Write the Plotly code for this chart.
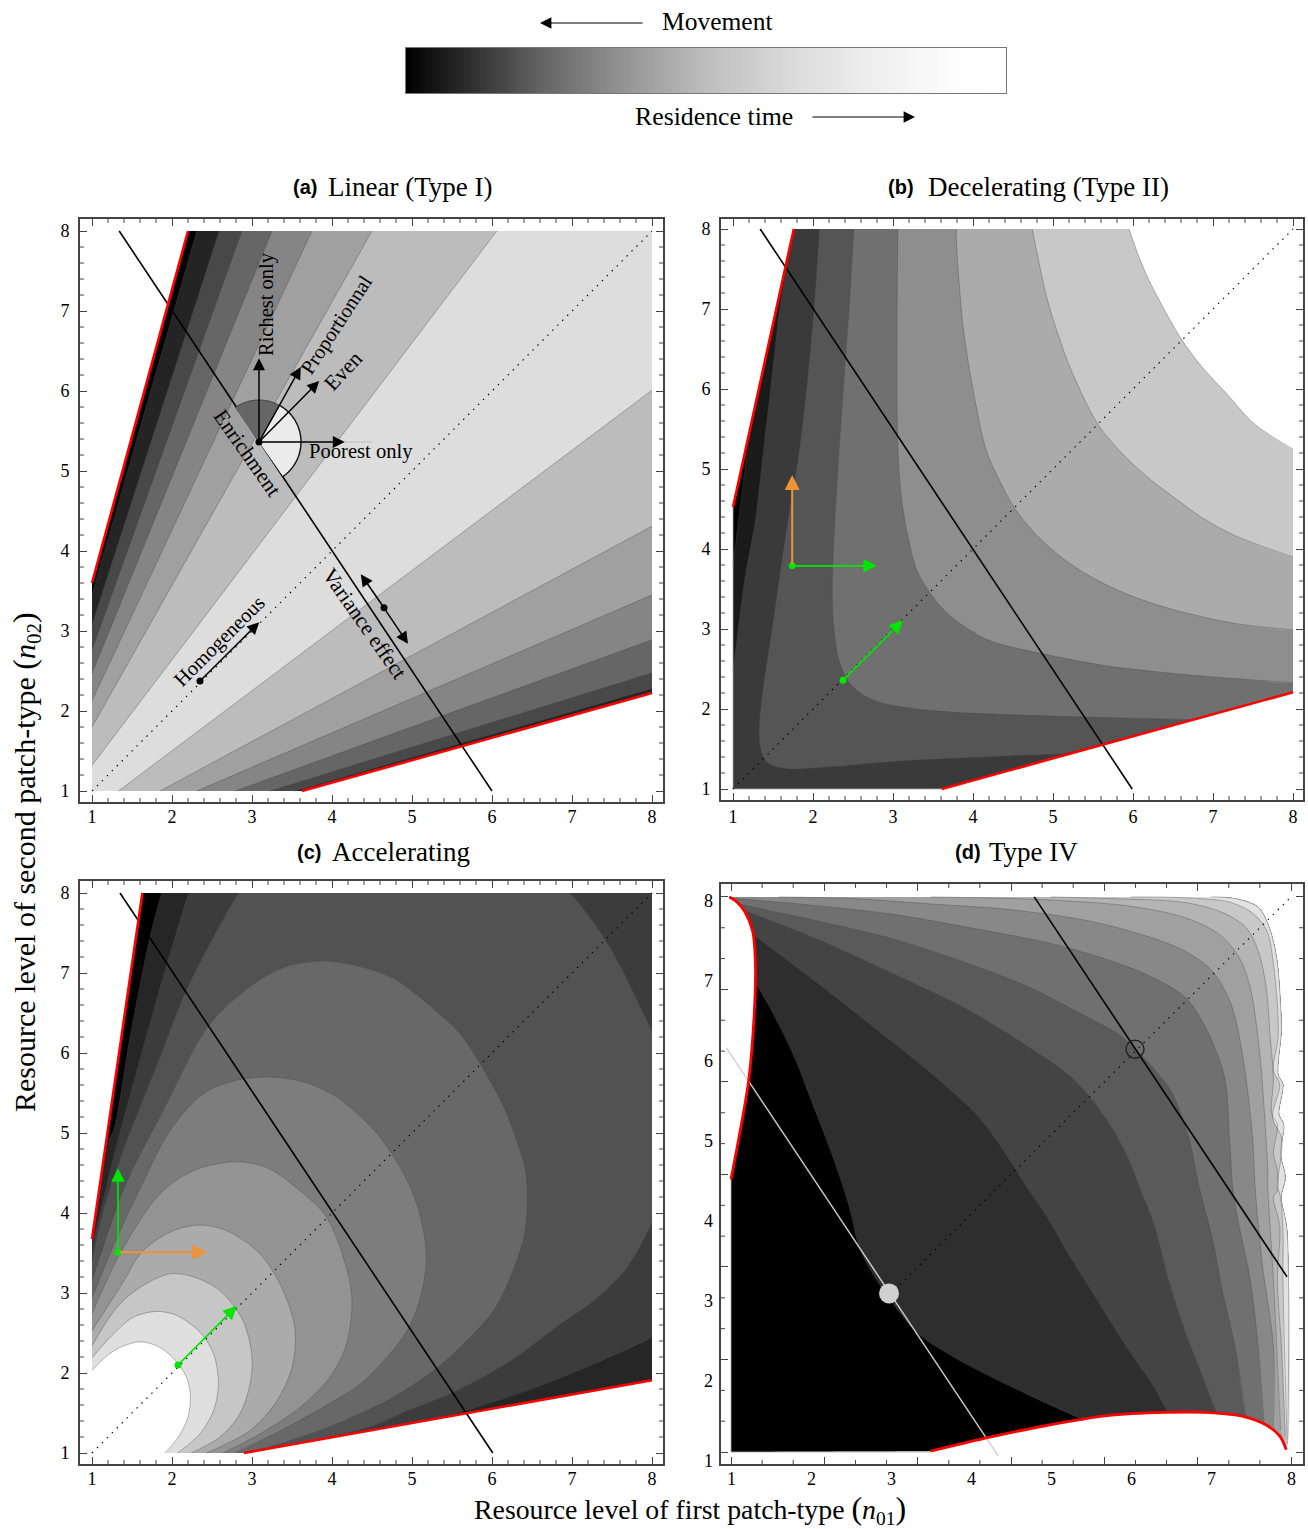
import math
import plotly.graph_objects as go

W, H = 1308, 1529
SERIF = "Liberation Serif"
SANS = "Liberation Sans"
GREEN = "#00e600"
ORANGE = "#ee9438"
EDGE = "rgba(70,70,70,0.55)"

# ---------- colour bar ----------
bar_pos = [0, .115, .23, .37, .51, .65, .79, .93, 1]
bar_gray = [0, 51, 102, 150, 192, 220, 240, 254, 255]

# ---------- (a) Linear ----------
a_left_y = [3.46, 3.08, 2.76, 2.47, 2.13, 1.80, 1.32]
a_top_x = [2.31, 2.59, 2.875, 3.25, 3.75, 4.5, 6.06]
a_right_y = [2.24, 2.28, 2.475, 2.89, 3.45, 4.31, 6.01]
a_bottom_x = [3.6, 3.54, 3.225, 2.79, 2.31, 1.85, 1.33]
a_gray = ["#242424", "#484848", "#666666", "#858585", "#a0a0a0", "#bcbcbc", "#dddddd"]
a_red_up_x = [1, 2.2]
a_red_up_y = [3.6, 8]
a_red_lo_x = [3.625, 8]
a_red_lo_y = [1, 2.225]
a_line_x = [1.34, 6]
a_line_y = [8, 1]

# ---------- (b) Decelerating ----------
b_red_up_x = [1, 1.76]
b_red_up_y = [4.525, 8]
b_red_lo_x = [3.61, 8]
b_red_lo_y = [1, 2.21]
b_line_x = [1.34, 5.99]
b_line_y = [8, 1]
b1_x = [1, 1.07, 1.15, 1.24]
b1_y = [3.80, 4.36, 5.0, 5.62]
b2_x = [1, 1.05, 1.15, 1.28, 1.38, 1.49, 1.59, 1.68]
b2_y = [2.46, 2.87, 3.64, 4.36, 5.22, 6.18, 7.04, 7.57]
b3_x = [2.08, 2.03, 1.97, 1.84, 1.65, 1.49, 1.38, 1.33, 1.34, 1.40, 1.53, 1.70, 2.26, 3.09, 4.35, 4.77, 5.15]
b3_y = [8, 7.23, 6.51, 5.31, 4.12, 3.01, 2.29, 1.81, 1.53, 1.36, 1.28, 1.25, 1.28, 1.35, 1.41, 1.425, 1.44]
b4_x = [2.51, 2.45, 2.38, 2.30, 2.25, 2.24, 2.26, 2.32, 2.425, 2.59, 2.84, 3.30, 3.925, 4.59, 5.40, 6.73]
b4_y = [8, 7, 6.03, 4.84, 3.88, 3.40, 3.01, 2.63, 2.37, 2.2, 2.08, 2.0, 1.95, 1.925, 1.90, 1.87]
b5_x = [3.06, 3.05, 3.05, 3.07, 3.11, 3.175, 3.30, 3.47, 3.675, 3.925, 4.22, 4.875, 5.6, 6.44, 7.27, 8]
b5_y = [8, 6.75, 5.79, 5.07, 4.6, 4.21, 3.73, 3.44, 3.2, 3.01, 2.85, 2.69, 2.55, 2.45, 2.38, 2.33]
b6_x = [3.79, 3.80, 3.88, 4.01, 4.17, 4.34, 4.52, 4.77, 5.10, 5.48, 5.94, 6.44, 7.27, 8]
b6_y = [8, 7.71, 6.75, 5.94, 5.22, 4.84, 4.51, 4.2, 3.90, 3.65, 3.43, 3.26, 3.07, 2.99]
b7_x = [4.74, 4.81, 4.92, 5.04, 5.23, 5.56, 5.85, 6.19, 6.60, 6.85, 7.27, 8]
b7_y = [8, 7.65, 7.15, 6.75, 6.23, 5.56, 5.21, 4.89, 4.58, 4.40, 4.17, 3.90]
b8_x = [5.95, 6.06, 6.19, 6.35, 6.60, 6.85, 7.19, 7.52, 8]
b8_y = [8, 7.69, 7.38, 7.07, 6.63, 6.29, 5.92, 5.56, 5.25]

# ---------- (c) Accelerating ----------
c_red_up_x = [1, 1.63]
c_red_up_y = [3.675, 8]
c_red_lo_x = [2.9, 8]
c_red_lo_y = [1, 1.91]
c_line_x = [1.35, 6.01]
c_line_y = [8, 1]
c_black_x = [1.87, 1.725, 1.475, 1.27, 1.2]
c_black_y = [8, 7.45, 6.2, 5.03, 4.9]
c_3c_up_x = [1, 1.27, 1.56, 1.975, 2.22]
c_3c_up_y = [3.57, 4.7, 5.78, 7.24, 8]
c_3c_lo_x = [8, 7.27, 6.44, 5.6, 5.0]
c_3c_lo_y = [2.45, 2.11, 1.78, 1.51, 1.37]
c_52_up_x = [1, 1.14, 1.39, 1.85, 2.16, 2.475, 2.84]
c_52_up_y = [3.4, 4.03, 4.78, 5.95, 6.74, 7.37, 8]
c_52_cn_x = [6.97, 7.19, 7.42, 7.65, 7.85, 8]
c_52_cn_y = [8, 7.74, 7.41, 7.0, 6.58, 6.27]
c_52_lo_x = [8, 7.69, 7.27, 6.85, 6.23, 5.52, 4.9, 4.52, 3.9]
c_52_lo_y = [3.88, 3.32, 2.9, 2.61, 2.15, 1.76, 1.51, 1.34, 1.18]
c_68_x = [1, 1.18, 1.44, 1.89, 2.45, 2.975, 3.43, 3.89, 4.35, 4.77, 5.19, 5.6, 5.85, 6.15, 6.35, 6.42, 6.44, 6.4, 6.23, 6.02, 5.6, 5.27, 4.77, 4.35, 3.9, 3.3, 2.9]
c_68_y = [3.15, 3.7, 4.4, 5.28, 6.33, 6.83, 7.08, 7.15, 7.08, 6.93, 6.62, 6.24, 5.87, 5.32, 4.78, 4.53, 4.11, 3.70, 3.2, 2.78, 2.32, 2.03, 1.7, 1.49, 1.3, 1.1, 1]
c_7d_x = [1, 1.225, 1.43, 1.65, 1.975, 2.39, 2.81, 3.225, 3.64, 4.06, 4.35, 4.6, 4.875, 5.06, 5.17, 5.17, 5.08, 4.94, 4.69, 4.35, 3.9, 3.4, 2.78]
c_7d_y = [2.94, 3.49, 3.95, 4.41, 5.03, 5.49, 5.66, 5.7, 5.64, 5.45, 5.21, 4.95, 4.53, 4.11, 3.61, 3.28, 2.86, 2.53, 2.2, 1.86, 1.58, 1.3, 1]
c_93_x = [1, 1.35, 1.85, 2.27, 2.77, 3.18, 3.6, 3.93, 4.18, 4.25, 4.18, 3.975, 3.6, 3.1, 2.64]
c_93_y = [2.74, 3.49, 4.24, 4.53, 4.64, 4.57, 4.28, 3.95, 3.32, 2.9, 2.36, 1.95, 1.57, 1.24, 1]
c_ab_x = [1, 1.35, 1.64, 2.02, 2.35, 2.68, 3.1, 3.39, 3.54, 3.5, 3.31, 2.975, 2.43]
c_ab_y = [2.53, 3.07, 3.53, 3.78, 3.85, 3.78, 3.49, 3.03, 2.53, 2.07, 1.65, 1.28, 1]
c_c6_x = [1, 1.31, 1.60, 1.975, 2.27, 2.6, 2.89, 3.0, 2.975, 2.85, 2.6, 2.24]
c_c6_y = [2.34, 2.82, 3.07, 3.24, 3.20, 3.03, 2.65, 2.2, 1.86, 1.49, 1.2, 1]
c_df_x = [1, 1.27, 1.52, 1.81, 2.06, 2.35, 2.52, 2.58, 2.52, 2.35, 2.07]
c_df_y = [2.19, 2.49, 2.70, 2.77, 2.72, 2.51, 2.24, 1.86, 1.53, 1.24, 1]
c_w_x = [1, 1.14, 1.31, 1.60, 1.85, 2.04, 2.18, 2.23, 2.20, 2.08, 1.91]
c_w_y = [2.03, 2.175, 2.30, 2.39, 2.32, 2.16, 1.95, 1.72, 1.45, 1.20, 1]

# ---------- (d) Type IV ----------
d_red_up_x = [1, 1.10, 1.22, 1.29, 1.305, 1.27, 1.17, 1.07, 0.98]
d_red_up_y = [4.44, 4.97, 5.68, 6.52, 7.15, 7.57, 7.82, 7.94, 8]
d_red_lo_x = [3.495, 4.25, 4.97, 5.7, 6.43, 6.91, 7.4, 7.69, 7.86, 7.94]
d_red_lo_y = [1.01, 1.19, 1.34, 1.46, 1.50, 1.50, 1.45, 1.34, 1.2, 1.03]
d_line_x = [4.79, 7.95]
d_line_y = [8, 3.21]
d_pale_x = [0.94, 4.34]
d_pale_y = [6.1, 0.95]
d1_x = [1.315, 1.53, 1.775, 2.02, 2.26, 2.415, 2.50, 2.60, 2.74, 2.99, 3.33, 3.76, 4.49, 5.38]
d1_y = [6.90, 6.52, 6.02, 5.39, 4.76, 4.3, 4.01, 3.59, 3.30, 2.92, 2.5, 2.21, 1.83, 1.42]
d2_x = [1.27, 2.07, 2.79, 3.52, 4.10, 4.49, 4.69, 4.92, 5.21, 5.55, 5.94, 6.28, 6.47]
d2_y = [7.53, 6.92, 6.35, 5.76, 5.22, 4.67, 4.35, 4.01, 3.51, 2.96, 2.33, 1.83, 1.5]
d3_x = [1.19, 2.07, 3.03, 3.99, 4.73, 5.26, 5.65, 5.94, 6.10, 6.28, 6.47, 6.67, 6.91, 7.08]
d3_y = [7.82, 7.47, 7.03, 6.56, 6.10, 5.72, 5.26, 4.76, 4.35, 3.89, 3.17, 2.54, 1.91, 1.48]
d4_x = [1.10, 2.07, 3.03, 3.99, 4.73, 5.46, 5.84, 6.18, 6.5, 6.72, 6.85, 7.01, 7.15, 7.3, 7.44]
d4_y = [7.91, 7.70, 7.47, 7.15, 6.86, 6.48, 6.27, 5.95, 5.55, 4.97, 4.35, 3.72, 3.0, 2.33, 1.45]
d5_x = [1.05, 2.07, 3.03, 3.99, 4.97, 5.70, 6.28, 6.72, 7.15, 7.23, 7.27, 7.32, 7.49, 7.59, 7.66]
d5_y = [7.98, 7.89, 7.78, 7.61, 7.42, 7.21, 6.98, 6.69, 5.81, 4.97, 4.35, 4.01, 3.17, 2.33, 1.39]
d6_x = [1.6, 2.5, 3.52, 4.49, 5.46, 6.18, 6.67, 7.01, 7.25, 7.40, 7.52, 7.55, 7.64, 7.78, 7.78]
d6_y = [8, 7.98, 7.91, 7.84, 7.70, 7.51, 7.32, 7.07, 6.65, 5.97, 4.97, 4.35, 3.38, 2.33, 1.32]
d7_x = [3.5, 4.78, 5.94, 6.67, 7.10, 7.35, 7.49, 7.61, 7.66, 7.71, 7.71, 7.78, 7.87]
d7_y = [8, 7.97, 7.89, 7.74, 7.53, 7.24, 6.86, 6.02, 5.39, 4.55, 4.35, 3.17, 1.28]
d8_x = [5.0, 5.70, 6.67, 7.15, 7.44, 7.59, 7.69, 7.74, 7.78, 7.76, 7.83, 7.78, 7.83, 7.83, 7.78, 7.86, 7.83, 7.88, 7.93]
d8_y = [8, 7.98, 7.93, 7.80, 7.61, 7.32, 6.86, 6.23, 5.72, 5.26, 5.13, 4.76, 4.55, 4.29, 4.22, 3.84, 3.17, 2.33, 1.2]
d9_x = [6.0, 6.67, 7.25, 7.54, 7.70, 7.77, 7.83, 7.84, 7.78, 7.86, 7.77, 7.88, 7.88, 7.83, 7.86, 7.9, 7.9, 7.95]
d9_y = [8, 7.99, 7.93, 7.78, 7.57, 7.24, 6.65, 6.23, 5.81, 5.64, 5.22, 4.97, 4.76, 4.34, 4.26, 3.8, 3.17, 1.16]
d10_x = [7.0, 7.30, 7.59, 7.73, 7.82, 7.87, 7.88, 7.84, 7.90, 7.85, 7.91, 7.87, 7.93, 7.88, 7.95, 7.96]
d10_y = [8, 7.98, 7.87, 7.61, 7.24, 6.65, 6.31, 5.76, 5.64, 5.26, 5.13, 4.76, 4.46, 4.22, 3.8, 1.16]
d_gray = ["#2e2e2e", "#444444", "#5a5a5a", "#707070", "#888888", "#a0a0a0", "#b4b4b4", "#c8c8c8", "#e2e2e2"]
d_tick_label_y = [0.887, 1.895, 2.904, 3.913, 4.92, 5.93, 6.94, 7.95]
tick_labels = ["1", "2", "3", "4", "5", "6", "7", "8"]

fig = go.Figure()
EPS = 0.015


def band_path(pieces):
    """Join curve pieces; the joins between pieces stay straight and the corners stay sharp."""
    pieces = [p for p in pieces if p[0]]
    xs, ys = [], []
    n = len(pieces)
    for i, (px, py) in enumerate(pieces):
        xs.extend(px)
        ys.extend(py)
        qx, qy = pieces[(i + 1) % n]
        dx, dy = qx[0] - px[-1], qy[0] - py[-1]
        dist = math.hypot(dx, dy)
        if dist > 3 * EPS:
            ux, uy = dx / dist * EPS, dy / dist * EPS
            xs.extend([px[-1] + ux, qx[0] - ux])
            ys.extend([py[-1] + uy, qy[0] - uy])
    return xs, ys


def pt(x, y):
    return ([x], [y])


def fill(ax, pieces, color, shape="spline"):
    x, y = band_path(pieces)
    fig.add_trace(go.Scatter(x=x, y=y, xaxis="x" + ax, yaxis="y" + ax, mode="lines",
                             line=dict(width=0, shape=shape, simplify=False, smoothing=0.9),
                             fill="toself", fillcolor=color, hoverinfo="skip", showlegend=False))


def line(ax, x, y, color=EDGE, width=0.7, dash=None, shape="spline"):
    fig.add_trace(go.Scatter(x=x, y=y, xaxis="x" + ax, yaxis="y" + ax, mode="lines",
                             line=dict(width=width, color=color, dash=dash, shape=shape, simplify=False,
                                       smoothing=0.9),
                             hoverinfo="skip", showlegend=False))


def dots(ax, x, y, color, size):
    fig.add_trace(go.Scatter(x=x, y=y, xaxis="x" + ax, yaxis="y" + ax, mode="markers",
                             marker=dict(size=size, color=color), hoverinfo="skip", showlegend=False))


DIAG_DASH = "1.5px,5.5px"
annotations = []


def arrow(ax, x0, y0, x1, y1, color="black", width=1.5, size=1.6):
    annotations.append(dict(x=x1, y=y1, ax=x0, ay=y0, xref="x" + ax, yref="y" + ax,
                            axref="x" + ax, ayref="y" + ax, text="", showarrow=True,
                            arrowhead=2, arrowsize=size, arrowwidth=width, arrowcolor=color,
                            standoff=0, startstandoff=0))


def label(ax, x, y, text, angle=0, size=20.5):
    annotations.append(dict(x=x, y=y, xref="x" + ax, yref="y" + ax, text=text, showarrow=False,
                            textangle=angle, font=dict(family=SERIF, size=size, color="black")))


def page_text(px, py, text, size=25, family=SERIF, angle=0, xanchor="center"):
    annotations.append(dict(x=px / W, y=1 - py / H, xref="paper", yref="paper", text=text,
                            showarrow=False, textangle=angle, xanchor=xanchor, yanchor="middle",
                            font=dict(family=family, size=size, color="black")))


def page_arrow(x0, y0, x1, y1):
    annotations.append(dict(x=x1 / W, y=1 - y1 / H, ax=x0 - x1, ay=y0 - y1, xref="paper", yref="paper",
                            axref="pixel", ayref="pixel", text="", showarrow=True, arrowhead=2,
                            arrowsize=1.9, arrowwidth=1.2, arrowcolor="black", standoff=0))


# ---------- panel a ----------
fill("", [pt(1, 3.6), pt(2.2, 8), pt(8, 8), pt(8, 2.225), pt(3.625, 1), pt(1, 1)], "#000000", "linear")
for i, col in enumerate(a_gray):
    fill("", [pt(1, a_left_y[i]), pt(a_top_x[i], 8), pt(8, 8), pt(8, a_right_y[i]), pt(a_bottom_x[i], 1), pt(1, 1)],
         col, "linear")
    line("", [1, a_top_x[i], None, a_bottom_x[i], 8], [a_left_y[i], 8, None, 1, a_right_y[i]], shape="linear")
line("", [1, 8], [1, 8], "black", 1.1, DIAG_DASH, "linear")
line("", a_line_x, a_line_y, "black", 1.6, shape="linear")
CX, CY, R = 3.0875, 5.3625, 0.525
arc_dark = [math.radians(125 - k * 65 / 24) for k in range(25)]
arc_light = [math.radians(60 - k * 115 / 36) for k in range(37)]
dark_x = [CX + R * math.cos(t) for t in arc_dark]
dark_y = [CY + R * math.sin(t) for t in arc_dark]
light_x = [CX + R * math.cos(t) for t in arc_light]
light_y = [CY + R * math.sin(t) for t in arc_light]
fill("", [pt(CX, CY), (dark_x, dark_y)], "#666666", "linear")
fill("", [pt(CX, CY), (light_x, light_y)], "#ebebeb", "linear")
line("", dark_x, dark_y, "#333333", 0.8, shape="linear")
line("", light_x, light_y, "#111111", 1.4, shape="linear")
line("", [4.16, 4.5], [CY, CY], "rgba(90,90,90,.6)", 0.8, "1px,1px", "linear")
dots("", [CX, 2.35, 4.65], [CY, 2.375, 3.29], "black", 7)
arrow("", CX, CY, CX, 6.41)
arrow("", CX, CY, 3.61, 6.3)
arrow("", CX, CY, 3.84, 6.125)
arrow("", CX, CY, 4.16, CY)
arrow("", 2.35, 2.375, 3.09, 3.11)
arrow("", 4.65, 3.29, 4.36, 3.71)
arrow("", 4.65, 3.29, 4.95, 2.84)
label("", 3.19, 7.09, "Richest only", -90)
label("", 4.05, 6.825, "Proportionnal", -57)
label("", 4.14, 6.25, "Even", -47, 21.5)
label("", 4.36, 5.24, "Poorest only", 0, 20.6)
label("", 2.94, 5.225, "Enrichment", 55, 21.5)
label("", 4.41, 3.09, "Variance effect", 55, 21.5)
label("", 2.59, 2.875, "Homogeneous", -45)
line("", a_red_up_x, a_red_up_y, "#ff0000", 2.6, shape="linear")
line("", a_red_lo_x, a_red_lo_y, "#ff0000", 2.6, shape="linear")

# ---------- panel b ----------
fill("2", [pt(1, 4.525), pt(1.76, 8), pt(8, 8), pt(8, 2.21), pt(3.61, 1), pt(1, 1)], "#000000", "linear")
fill("2", [(b1_x, b1_y), pt(1.76, 8), pt(8, 8), pt(8, 2.21), pt(3.61, 1), pt(1, 1)], "#1a1a1a")
fill("2", [(b2_x, b2_y), pt(1.76, 8), pt(8, 8), pt(8, 2.21), pt(3.61, 1), pt(1, 1)], "#3a3a3a")
fill("2", [(b3_x, b3_y), pt(8, 2.21), pt(8, 8)], "#555555")
fill("2", [(b4_x, b4_y), pt(8, 2.21), pt(8, 8)], "#707070")
fill("2", [(b5_x, b5_y), pt(8, 8)], "#8e8e8e")
fill("2", [(b6_x, b6_y), pt(8, 8)], "#ababab")
fill("2", [(b7_x, b7_y), pt(8, 8)], "#c8c8c8")
fill("2", [(b8_x, b8_y), pt(8, 8)], "#ffffff")
for cx, cy in [(b1_x, b1_y), (b2_x, b2_y), (b3_x, b3_y), (b4_x, b4_y), (b5_x, b5_y), (b6_x, b6_y), (b7_x, b7_y), (b8_x, b8_y)]:
    line("2", cx, cy)
line("2", [1, 1], [1, 4.525], "#aaaaaa", 0.8, shape="linear")
line("2", [1, 3.61], [1, 1], "#aaaaaa", 0.8, shape="linear")
line("2", [1, 8], [1, 8], "black", 1.1, DIAG_DASH, "linear")
line("2", b_line_x, b_line_y, "black", 1.6, shape="linear")
line("2", b_red_up_x, b_red_up_y, "#ff0000", 2.6, shape="linear")
line("2", b_red_lo_x, b_red_lo_y, "#ff0000", 2.6, shape="linear")
arrow("2", 1.74, 3.79, 1.74, 4.925, ORANGE, 2, 1.5)
arrow("2", 1.74, 3.79, 2.8, 3.79, GREEN, 1.7)
arrow("2", 2.375, 2.36, 3.125, 3.11, GREEN, 1.7)
dots("2", [1.74, 2.375], [3.79, 2.36], GREEN, 7)

# ---------- panel c ----------
fill("3", [pt(1, 3.675), pt(1.63, 8), pt(8, 8), pt(8, 1.91), pt(2.9, 1), pt(1, 1)], "#000000", "linear")
fill("3", [(c_black_x, c_black_y), pt(1, 3.675), pt(1, 1), pt(2.9, 1), pt(8, 1.91), pt(8, 8)], "#262626")
fill("3", [(c_3c_up_x, c_3c_up_y), pt(8, 8), (c_3c_lo_x, c_3c_lo_y), pt(2.9, 1), pt(1, 1)], "#3c3c3c")
fill("3", [(c_52_up_x, c_52_up_y), (c_52_cn_x, c_52_cn_y), (c_52_lo_x, c_52_lo_y), pt(2.9, 1), pt(1, 1)], "#525252")
for (cx, cy), col in [((c_68_x, c_68_y), "#686868"), ((c_7d_x, c_7d_y), "#7d7d7d"), ((c_93_x, c_93_y), "#939393"),
                      ((c_ab_x, c_ab_y), "#ababab"), ((c_c6_x, c_c6_y), "#c6c6c6"), ((c_df_x, c_df_y), "#dfdfdf"),
                      ((c_w_x, c_w_y), "#ffffff")]:
    fill("3", [(cx, cy), pt(1, 1)], col)
for cx, cy in [(c_black_x, c_black_y), (c_3c_up_x, c_3c_up_y), (c_3c_lo_x, c_3c_lo_y), (c_52_up_x, c_52_up_y),
               (c_52_cn_x, c_52_cn_y), (c_52_lo_x, c_52_lo_y), (c_68_x, c_68_y), (c_7d_x, c_7d_y),
               (c_93_x, c_93_y), (c_ab_x, c_ab_y), (c_c6_x, c_c6_y), (c_df_x, c_df_y), (c_w_x, c_w_y)]:
    line("3", cx, cy)
line("3", [1, 8], [1, 8], "black", 1.1, DIAG_DASH, "linear")
line("3", c_line_x, c_line_y, "black", 1.6, shape="linear")
line("3", c_red_up_x, c_red_up_y, "#ff0000", 2.6, shape="linear")
line("3", c_red_lo_x, c_red_lo_y, "#ff0000", 2.6, shape="linear")
arrow("3", 1.325, 3.51, 1.325, 4.56, GREEN, 1.7)
arrow("3", 1.325, 3.51, 2.44, 3.51, ORANGE, 2, 1.5)
arrow("3", 2.075, 2.1, 2.81, 2.84, GREEN, 1.7)
dots("3", [1.325, 2.075], [3.51, 2.1], GREEN, 7)

# ---------- panel d ----------
d10_rev = (d10_x[::-1], d10_y[::-1])
fill("4", [pt(1, 1), (d_red_lo_x, d_red_lo_y), d10_rev, (d_red_up_x[::-1], d_red_up_y[::-1])], "#000000")
d_curves = [(d1_x, d1_y), (d2_x, d2_y), (d3_x, d3_y), (d4_x, d4_y), (d5_x, d5_y),
            (d6_x, d6_y), (d7_x, d7_y), (d8_x, d8_y), (d9_x, d9_y)]
for (cx, cy), col in zip(d_curves, d_gray):
    tail = [(a, b) for a, b in zip(d_red_lo_x, d_red_lo_y) if a > cx[-1]]
    rim = [(a, b) for a, b in zip(d_red_up_x[::-1], d_red_up_y[::-1]) if b > cy[0] or b == 8]
    fill("4", [(cx, cy), ([p[0] for p in tail], [p[1] for p in tail]), d10_rev,
               ([p[0] for p in rim], [p[1] for p in rim])], col)
for cx, cy in d_curves:
    line("4", cx, cy)
line("4", d10_x, d10_y, "rgba(110,110,110,.7)", 0.7)
line("4", [1, 1], [1, 4.44], "#aaaaaa", 0.8, shape="linear")
line("4", [1, 3.495], [1, 1], "#aaaaaa", 0.8, shape="linear")
line("4", [3.05, 8], [3.05, 8], "black", 1.1, DIAG_DASH, "linear")
line("4", d_line_x, d_line_y, "black", 1.6, shape="linear")
line("4", d_pale_x, d_pale_y, "#cfcfcf", 1.4, shape="linear")
line("4", d_red_up_x, d_red_up_y, "#ff0000", 2.8)
line("4", d_red_lo_x, d_red_lo_y, "#ff0000", 2.8)
fig.add_trace(go.Scatter(x=[6.05], y=[6.08], xaxis="x4", yaxis="y4", mode="markers", hoverinfo="skip",
                         showlegend=False,
                         marker=dict(size=18, color="rgba(0,0,0,0)", line=dict(width=1.4, color="#222222"))))
dots("4", [2.975], [3.0], "#d0d0d0", 20)

# ---------- colour bar ----------
fig.add_trace(go.Heatmap(x=bar_pos, y=[0, 1], z=[bar_gray, bar_gray], zmin=0, zmax=255, zsmooth="best",
                         colorscale=[[0, "#000000"], [1, "#ffffff"]], showscale=False, hoverinfo="skip",
                         xaxis="x5", yaxis="y5"))

# ---------- layout ----------
FRAME = "#444444"


def axis(px0, px1, lo, hi, anchor, size, standoff):
    return dict(domain=[px0 / size, px1 / size], range=[lo, hi], anchor=anchor, showgrid=False, zeroline=False,
                showline=True, linecolor=FRAME, linewidth=1.6, mirror="allticks", ticks="inside",
                ticklen=7, tickwidth=1.2, tickcolor=FRAME, tickmode="linear", tick0=1, dtick=1,
                showticklabels=True, ticklabelstandoff=standoff,
                tickfont=dict(family=SERIF, size=18, color="black"))


def yaxis(top, bottom, lo, hi, anchor):
    return axis(H - bottom, H - top, lo, hi, anchor, H, 5)


layout = dict(width=W, height=H, margin=dict(l=0, r=0, t=0, b=0), paper_bgcolor="white", plot_bgcolor="white",
              showlegend=False, font=dict(family=SERIF, color="black"))
layout["xaxis"] = axis(80, 663, .85, 8.1375, "y", W, -2)
layout["yaxis"] = yaxis(219, 802, .8625, 8.15, "x")
layout["xaxis2"] = axis(721, 1303, .85, 8.125, "y2", W, 0)
layout["yaxis2"] = yaxis(219, 800, .8625, 8.125, "x2")
layout["xaxis3"] = axis(80, 663, .85, 8.1375, "y3", W, -2)
layout["yaxis3"] = yaxis(881, 1464, .8625, 8.15, "x3")
x4 = axis(721, 1303, .875, 8.15, "y4", W, 0)
y4 = yaxis(884, 1464, .8487, 8.163, "x4")
for ax4 in (x4, y4):
    ax4["dtick"] = 7 / 6
    ax4["showticklabels"] = False
layout["xaxis4"] = x4
layout["yaxis4"] = y4
layout["xaxis5"] = dict(domain=[406 / W, 1006 / W], range=[0, 1], anchor="y5", showgrid=False, zeroline=False,
                        showticklabels=False, ticks="", showline=True, linecolor="#777777", linewidth=1, mirror=True)
layout["yaxis5"] = dict(domain=[1 - 93 / H, 1 - 48 / H], range=[0, 1], anchor="x5", showgrid=False, zeroline=False,
                        showticklabels=False, ticks="", showline=True, linecolor="#777777", linewidth=1, mirror=True)


def minor_ticks(s, step, every):
    """Short tick marks along all four frame sides of one panel, 4 px = 0.05 axis units long."""
    xlo, xhi = layout["xaxis" + s]["range"]
    ylo, yhi = layout["yaxis" + s]["range"]
    marks = [1 + k * step for k in range(int(round(7 / step)) + 1) if k % every]
    xs, ys = [], []
    for m in marks:
        xs += [m, m, None, m, m, None]
        ys += [ylo, ylo + 0.05, None, yhi, yhi - 0.05, None]
        xs += [xlo, xlo + 0.05, None, xhi, xhi - 0.05, None]
        ys += [m, m, None, m, m, None]
    fig.add_trace(go.Scatter(x=xs, y=ys, xaxis="x" + s, yaxis="y" + s, mode="lines", hoverinfo="skip",
                             showlegend=False, line=dict(color=FRAME, width=1)))


minor_ticks("", 0.2, 5)
minor_ticks("2", 0.2, 5)
minor_ticks("3", 0.2, 5)
minor_ticks("4", 7 / 18, 3)

for i, t in enumerate(tick_labels):
    annotations.append(dict(x=i + 1, y=1 - 1479 / H, xref="x4", yref="paper", text=t, showarrow=False,
                            yanchor="middle", xanchor="center", font=dict(family=SERIF, size=18, color="black")))
    annotations.append(dict(x=715 / W, y=d_tick_label_y[i], xref="paper", yref="y4", text=t, showarrow=False,
                            xanchor="right", yanchor="middle", font=dict(family=SERIF, size=18, color="black")))

page_text(717, 21, "Movement", 25.5)
page_text(714, 116, "Residence time", 25.8)
page_arrow(644, 23, 540, 23)
page_arrow(811, 117, 915, 117)
for px, py, tag in [(304.5, 187, "(a)"), (901, 187, "(b)"), (309, 852, "(c)"), (968, 852, "(d)")]:
    page_text(px, py, "<b>" + tag + "</b>", 20, SANS)
page_text(326, 187, "Linear (Type I)", 27, xanchor="left")
page_text(926, 187, "Decelerating (Type II)", 27, xanchor="left")
page_text(330, 852, "Accelerating", 27, xanchor="left")
page_text(987, 852, "Type IV", 27, xanchor="left")
PAR_OPEN = '<span style="font-size:32px">(</span>'
PAR_CLOSE = '<span style="font-size:32px">)</span>'
page_text(690, 1509, "Resource level of first patch-type " + PAR_OPEN + "<i>n</i><sub>01</sub>" + PAR_CLOSE, 27.8)
page_text(26, 862, "Resource level of second patch-type " + PAR_OPEN + "<i>n</i><sub>02</sub>" + PAR_CLOSE, 30, angle=-90)
layout["annotations"] = annotations

fig.update_layout(**layout)
fig.write_html("out.html", config={"displayModeBar": False},
               post_script="document.body.style.margin='0';document.body.style.overflow='hidden';")
